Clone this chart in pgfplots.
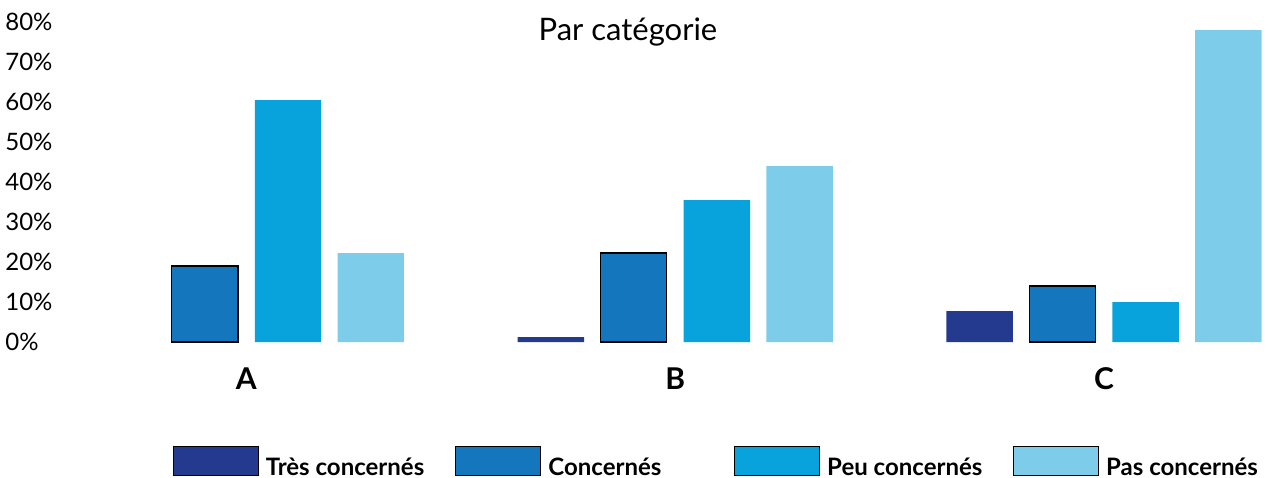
\documentclass[border=0pt]{standalone}
\usepackage{fontspec}
\setmainfont{Lato}
\usepackage{pgfplots}
\pgfplotsset{compat=1.18}
\definecolor{tres}{HTML}{233A8F}
\definecolor{conc}{HTML}{1477BD}
\definecolor{peu}{HTML}{08A3DC}
\definecolor{pas}{HTML}{7DCCE9}
\pgfplotsset{mybar/.style={ybar, bar width=0.155, bar shift=0pt,
  legend image code/.code={\draw[##1] (0pt,0pt) rectangle (42.5pt,14.5pt);}}}
\begin{document}
\begin{tikzpicture}
\useasboundingbox (-34pt,-67.5pt) rectangle (603pt,171pt);
\begin{axis}[
 at={(0,0)}, anchor=south west,
 scale only axis, width=599.5pt, height=160pt,
 xmin=-0.416, xmax=2.38, ymin=0, ymax=80,
 axis line style={draw=none}, tick style={draw=none},
 xtick={0,1,2}, xticklabels={A,B,C},
 xticklabel style={font=\fontsize{15}{18}\selectfont\bfseries, anchor=base, yshift=-23.5pt, inner sep=0pt},
 ytick={0,10,...,80},
 yticklabel={\pgfmathprintnumber{\tick}\%},
 yticklabel style={font=\fontsize{12}{14}\selectfont, anchor=west, xshift=-31.5pt, inner sep=0pt},
 /pgf/number format/assume math mode=true,
 title={Par catégorie},
 title style={at={(0.467,0.9406)}, anchor=base, yshift=-5.5pt, font=\fontsize{15.5}{18}\selectfont, inner sep=0pt},
 legend columns=4,
 legend style={at={(0,0)}, anchor=north west, xshift=52.5pt, yshift=-52pt, draw=none,
   inner sep=0pt, outer sep=0pt,
   nodes={inner sep=0pt, font=\fontsize{12}{14}\selectfont\bfseries},
   /tikz/every odd column/.append style={column sep=3.5pt},
   /tikz/column 2/.style={column sep=15.5pt},
   /tikz/column 4/.style={column sep=36.5pt},
   /tikz/column 6/.style={column sep=15.5pt},
   cells={anchor=base west}},
]
\addplot[mybar, fill=tres, draw=none] coordinates {(0.71,1.25) (1.71,7.75)};
\addlegendentry{Très concernés}
\addplot[mybar, fill=conc, draw=black, line width=0.6pt] coordinates {(-0.097,19) (0.903,22.25) (1.903,14)};
\addlegendentry{Concernés}
\addplot[mybar, fill=peu, draw=none] coordinates {(0.097,60.5) (1.097,35.5) (2.097,10)};
\addlegendentry{Peu concernés}
\addplot[mybar, fill=pas, draw=none] coordinates {(0.29,22.25) (1.29,44) (2.29,78)};
\addlegendentry{Pas concernés}
\end{axis}
\end{tikzpicture}
\end{document}
